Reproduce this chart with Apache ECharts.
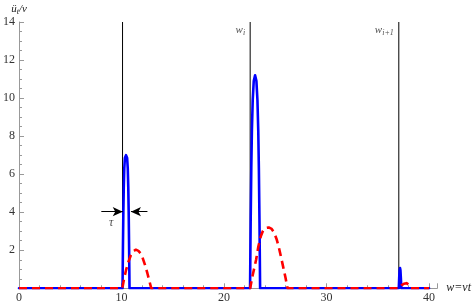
<!DOCTYPE html>
<html><head><meta charset="utf-8">
<script src="https://cdn.jsdelivr.net/npm/echarts@6/dist/echarts.min.js"></script>
<style>html,body{margin:0;padding:0;background:#fff}#c{width:474px;height:306px}</style>
</head><body><div id="c"></div>
<script>
// Blue solid curve (w, value)
const blueCurve = [[0,0],[10.1,0],[10.14,2.2],[10.18,4.0],[10.22,5.3],[10.27,6.3],[10.33,6.85],[10.44,7.0],[10.55,6.85],[10.61,6.3],[10.66,5.3],[10.7,4.0],[10.74,2.2],[10.78,0],
  [22.54,0],[22.6,3.5],[22.66,6.3],[22.72,8.3],[22.8,9.9],[22.9,10.9],[23.03,11.2],[23.16,10.9],[23.26,9.9],[23.34,8.3],[23.4,6.3],[23.46,3.5],[23.52,0],
  [37.05,0],[37.09,0.55],[37.13,0.95],[37.17,1.07],[37.21,0.95],[37.25,0.55],[37.3,0],[40,0]];
// Red dashed curve (w, value)
const redCurve = [[0,0],[10.08,0],[10.25,0.5],[10.44,0.95],[10.68,1.4],[10.92,1.75],[11.15,1.95],[11.4,2.03],[11.65,1.97],[11.85,1.85],[12.05,1.62],[12.3,1.22],[12.53,0.78],[12.72,0.38],[12.9,0],
  [22.55,0],[22.8,0.7],[23.13,1.5],[23.35,2.2],[23.6,2.75],[23.8,3.02],[24.05,3.17],[24.36,3.2],[24.65,3.12],[24.9,2.92],[25.15,2.55],[25.35,2.15],[25.54,1.7],[25.78,1.1],[26.0,0.55],[26.2,0],
  [37.05,0],[37.3,0.15],[37.55,0.24],[37.8,0.27],[38.0,0.2],[38.2,0],[40,0]];
// Vertical marker lines
const vlinePos = [10.1, 22.55, 37.05];
const vlineLabels = ['', 'i', 'i+1'];
const vlineTop = 14;
// tau annotation
const tauLeftArrow = [[8.03,4.03],[10.12,4.03]];
const tauRightArrow = [[12.53,4.03],[10.92,4.03]];
const tauLabelPos = [9.0, 3.45];
// axes
const xTicks = [0,10,20,30,40];
const yTicks = [0,2,4,6,8,10,12,14];

const serif = '"Liberation Serif","DejaVu Serif",serif';
const chart = echarts.init(document.getElementById('c'));
const series = [];
vlinePos.forEach((p,i)=>{
  series.push({type:'line', data:[[p,0],[p,vlineTop]], symbol:'none', lineStyle:{color:'#000',width:1}, z:1, silent:true, animation:false});
  if(vlineLabels[i]!==''){
    series.push({type:'scatter', data:[[p,vlineTop]], symbolSize:0, z:5, silent:true, animation:false,
      label:{show:true, position:'left', distance:5, offset:[0,8], formatter:'{it|w}{sub|'+vlineLabels[i]+'}',
        rich:{it:{fontFamily:serif,fontStyle:'italic',fontSize:11,color:'#222'}, sub:{fontFamily:serif,fontStyle:'italic',fontSize:8,color:'#222',padding:[6,0,0,0]}}}});
  }
});
series.push({type:'line', data:blueCurve, symbol:'none', lineStyle:{color:'#0000ff',width:2.6,join:'round',cap:'round'}, z:3, animation:false});
series.push({type:'line', data:redCurve, symbol:'none', lineStyle:{color:'#ff0000',width:2.6,type:[8,5],join:'round'}, z:4, animation:false});
series.push({type:'scatter', data:[tauLabelPos], symbolSize:0, z:5, animation:false,
  label:{show:true, formatter:'τ', position:'inside', fontFamily:serif, fontStyle:'italic', fontSize:12, color:'#222'},
  markLine:{silent:true, animation:false, symbol:['none','arrow'], symbolSize:[7,10],
    lineStyle:{color:'#000',width:1,type:'solid'}, label:{show:false},
    data:[[{coord:tauLeftArrow[0]},{coord:tauLeftArrow[1]}],[{coord:tauRightArrow[0]},{coord:tauRightArrow[1]}]]}});

chart.setOption({
  animation:false,
  grid:{left:15, right:35.7, top:22, bottom:17.7, containLabel:false},
  xAxis:{type:'value', min:0, max:40.8, interval:10,
    name:'w=vt', nameLocation:'end', nameGap:9,
    nameTextStyle:{fontFamily:serif, fontStyle:'italic', fontSize:12, color:'#222', verticalAlign:'middle'},
    axisLine:{lineStyle:{color:'#999',width:1}},
    axisTick:{show:true, inside:true, length:5, lineStyle:{color:'#999'}},
    minorTick:{show:true, splitNumber:5, length:3, lineStyle:{color:'#999'}},
    axisLabel:{fontFamily:serif, fontSize:12, color:'#333', margin:4, showMaxLabel:false,
      formatter:v=> xTicks.includes(v)? String(v):''},
    splitLine:{show:false}},
  yAxis:{type:'value', min:0, max:14, interval:2,
    name:'{u|ü}{s|t}{u|/v}', nameLocation:'end', nameGap:6,
    nameTextStyle:{align:'center', rich:{u:{fontFamily:serif,fontStyle:'italic',fontSize:11,color:'#222'}, s:{fontFamily:serif,fontStyle:'italic',fontSize:8,color:'#222',padding:[5,0,0,0]}}},
    axisLine:{lineStyle:{color:'#999',width:1}},
    axisTick:{show:true, inside:true, length:5, lineStyle:{color:'#999'}},
    minorTick:{show:true, splitNumber:4, length:3, lineStyle:{color:'#999'}},
    axisLabel:{fontFamily:serif, fontSize:12, color:'#333', margin:4, showMinLabel:false,
      formatter:v=> yTicks.includes(v)? String(v):''},
    splitLine:{show:false}},
  series: series
});
</script></body></html>
